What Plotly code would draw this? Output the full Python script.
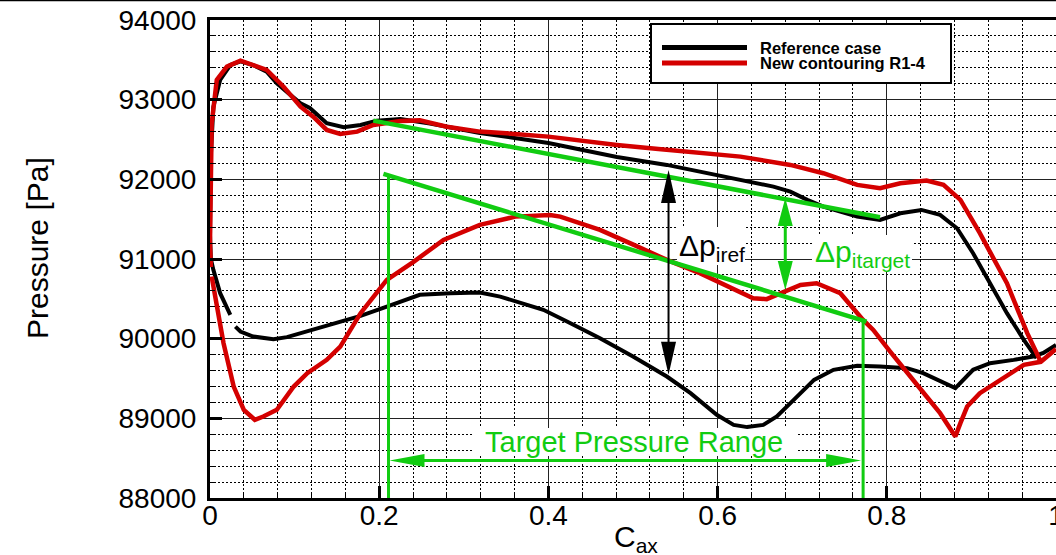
import plotly.graph_objects as go

# ---------------------------------------------------------------
# Blade surface pressure vs. axial chord (C_ax)
# ---------------------------------------------------------------

# Reference case: pressure side (from leading edge)
ref_ps_cax = [0.000, 0.001, 0.004, 0.012, 0.024, 0.036, 0.051, 0.067, 0.079, 0.095,
              0.107, 0.118, 0.138, 0.158, 0.178, 0.197, 0.225, 0.260, 0.319, 0.360,
              0.400, 0.440, 0.481, 0.540, 0.579, 0.627, 0.666, 0.686, 0.706, 0.725,
              0.745, 0.765, 0.792, 0.816, 0.841, 0.863, 0.883, 0.902, 0.922, 0.942,
              0.962, 0.977]
ref_ps_p = [91300, 92300, 92912, 93247, 93435, 93480, 93435, 93351, 93206, 93060,
            92955, 92896, 92704, 92654, 92683, 92737, 92758, 92700, 92582, 92520,
            92457, 92370, 92281, 92181, 92097, 91992, 91908, 91846, 91742, 91658,
            91595, 91532, 91490, 91574, 91616, 91553, 91386, 91072, 90696, 90320,
            89985, 89755]

# Reference case: suction side (after leading edge; None = break in the line)
ref_ss_cax = [0.001, 0.004, 0.012, 0.024, None, 0.030, 0.036, 0.051, 0.075, 0.091,
              0.118, 0.146, 0.178, 0.209, 0.248, 0.284, 0.319, 0.343, 0.370, 0.394,
              0.422, 0.461, 0.500, 0.540, 0.568, 0.599, 0.619, 0.635, 0.654, 0.670,
              0.690, 0.714, 0.737, 0.765, 0.792, 0.824, 0.843, 0.863, 0.881, 0.902,
              0.922, 0.950, 0.973, 0.985, 1.000]
ref_ss_p = [91000, 90863, 90571, 90299, None, 90152, 90090, 90027, 89994, 90019,
            90098, 90190, 90286, 90403, 90550, 90571, 90578, 90528, 90445, 90362,
            90215, 90006, 89775, 89525, 89316, 89044, 88918, 88890, 88918, 89023,
            89232, 89483, 89609, 89659, 89650, 89630, 89567, 89462, 89379, 89609,
            89692, 89734, 89775, 89820, 89920]

# New contouring R1-4: pressure side (from leading edge)
new_ps_cax = [0.000, 0.001, 0.002, 0.008, 0.020, 0.036, 0.051, 0.067, 0.087, 0.107,
              0.122, 0.138, 0.154, 0.174, 0.193, 0.225, 0.248, 0.280, 0.319, 0.360,
              0.400, 0.440, 0.481, 0.530, 0.579, 0.627, 0.686, 0.725, 0.765, 0.792,
              0.816, 0.847, 0.867, 0.887, 0.910, 0.942, 0.966, 0.982]
new_ps_p = [91200, 92000, 92700, 93247, 93414, 93490, 93440, 93373, 93163, 92912,
            92787, 92620, 92570, 92599, 92683, 92733, 92740, 92660, 92599, 92570,
            92536, 92490, 92432, 92380, 92328, 92285, 92181, 92077, 91930, 91888,
            91951, 91984, 91930, 91742, 91324, 90696, 90069, 89710]

# New contouring R1-4: suction side (after leading edge)
new_ss_cax = [0.001, None, 0.002, 0.004, 0.008, 0.016, 0.028, 0.040, 0.053, 0.063,
              0.079, 0.099, 0.115, 0.138, 0.154, 0.178, 0.209, 0.241, 0.276, 0.319,
              0.361, 0.402, 0.414, 0.461, 0.501, 0.540, 0.579, 0.627, 0.642, 0.658,
              0.678, 0.698, 0.717, 0.745, 0.772, 0.784, 0.804, 0.824, 0.847, 0.863,
              0.881, 0.887, 0.895, 0.910, 0.934, 0.962, 0.982, 1.000]
new_ss_p = [90900, None, 90780, 90650, 90445, 89943, 89399, 89107, 88981, 89023,
            89107, 89399, 89567, 89734, 89901, 90320, 90738, 90968, 91240, 91428,
            91532, 91553, 91532, 91365, 91177, 90989, 90822, 90591, 90508, 90496,
            90591, 90675, 90696, 90571, 90236, 90110, 89838, 89567, 89274, 89065,
            88772, 88940, 89148, 89316, 89483, 89671, 89710, 89870]

# Target pressure gradient lines (pressure side / suction side)
target_ps_cax = [0.193, 0.792]
target_ps_p = [92737, 91524]
target_ss_cax = [0.205, 0.776]
target_ss_p = [92068, 90215]

# Target pressure range limits and marker levels
range_cax = [0.211, 0.772]
range_top_p = [92034, 90230]
range_arrow_p = 88471

# Pressure difference arrows: (cax, bottom, top)
dp_ref = (0.542, 89546, 92118)
dp_target = (0.680, 90610, 91767)

# ---------------------------------------------------------------
# Layout geometry
# ---------------------------------------------------------------
W, H = 1056, 555
ML, MR, MT, MB = 210, 0, 20, 57
PW, PH = W - ML - MR, H - MT - MB
X_RANGE = [0.0, 1.0]
Y_RANGE = [88000, 94000]
FONT = "Liberation Sans, Arial, Helvetica, sans-serif"

BLACK = "#000000"
RED = "#d40000"
GREEN = "#11cc11"


def ux(n):  # pixel length -> x data units
    return n * (X_RANGE[1] - X_RANGE[0]) / PW


def uy(n):  # pixel length -> y data units
    return n * (Y_RANGE[1] - Y_RANGE[0]) / PH


def dx(px):  # absolute pixel -> x data
    return X_RANGE[0] + ux(px - ML)


def dy(py):  # absolute pixel -> y data
    return Y_RANGE[1] - uy(py - MT)


def px_(px):  # absolute pixel -> paper x
    return (px - ML) / PW


def py_(py):  # absolute pixel -> paper y
    return (H - MB - py) / PH


def closed_path(ps_x, ps_y, ss_x, ss_y):
    return ps_x[::-1] + ss_x, ps_y[::-1] + ss_y


def head(x, y, direction, length, half, color):
    if direction == "up":
        pts = [(x, y), (x - ux(half), y - uy(length)), (x + ux(half), y - uy(length))]
    elif direction == "down":
        pts = [(x, y), (x - ux(half), y + uy(length)), (x + ux(half), y + uy(length))]
    elif direction == "left":
        pts = [(x, y), (x + ux(length), y + uy(half)), (x + ux(length), y - uy(half))]
    else:
        pts = [(x, y), (x - ux(length), y + uy(half)), (x - ux(length), y - uy(half))]
    path = "M " + " L ".join(f"{a:.5f},{b:.3f}" for a, b in pts) + " Z"
    return dict(type="path", path=path, xref="x", yref="y", fillcolor=color,
                line=dict(width=0), layer="above")


fig = go.Figure()

bx, by = closed_path(ref_ps_cax, ref_ps_p, ref_ss_cax, ref_ss_p)
fig.add_trace(go.Scatter(x=bx, y=by, mode="lines", name="Reference case",
                         line=dict(color=BLACK, width=4), connectgaps=False,
                         showlegend=False))
rx, ry = closed_path(new_ps_cax, new_ps_p, new_ss_cax, new_ss_p)
fig.add_trace(go.Scatter(x=rx, y=ry, mode="lines", name="New contouring R1-4",
                         line=dict(color=RED, width=4.5), connectgaps=False,
                         showlegend=False))

# target lines
fig.add_trace(go.Scatter(x=target_ps_cax, y=target_ps_p, mode="lines",
                         line=dict(color=GREEN, width=4.5), showlegend=False))
fig.add_trace(go.Scatter(x=target_ss_cax, y=target_ss_p, mode="lines",
                         line=dict(color=GREEN, width=4.5), showlegend=False))
for cx, ptop in zip(range_cax, range_top_p):
    fig.add_trace(go.Scatter(x=[cx, cx], y=[Y_RANGE[0], ptop], mode="lines",
                             line=dict(color=GREEN, width=3), showlegend=False))

shapes = []

# white boxes behind labels (above gridlines, below curves)
for (x0, x1, y0, y1) in [(473, 797, 428, 456), (677, 745, 227, 265), (812, 912, 235, 272)]:
    shapes.append(dict(type="rect", xref="x", yref="y", x0=dx(x0), x1=dx(x1),
                       y0=dy(y1), y1=dy(y0), fillcolor="white",
                       line=dict(width=0), layer="between"))

# target pressure range double arrow
hl = 35
shapes.append(dict(type="line", xref="x", yref="y", x0=range_cax[0] + ux(hl - 2),
                   x1=range_cax[1] - ux(hl - 2), y0=range_arrow_p, y1=range_arrow_p,
                   line=dict(color=GREEN, width=3), layer="above"))
shapes.append(head(range_cax[0] + ux(1), range_arrow_p, "left", hl, 6.5, GREEN))
shapes.append(head(range_cax[1] - ux(2), range_arrow_p, "right", hl, 6.5, GREEN))

# delta p (reference) arrow
cx, pb, pt = dp_ref
shapes.append(dict(type="line", xref="x", yref="y", x0=cx, x1=cx,
                   y0=pb + uy(20), y1=pt - uy(20), line=dict(color=BLACK, width=2),
                   layer="above"))
shapes.append(head(cx, pt, "up", 33, 7.5, BLACK))
shapes.append(head(cx, pb, "down", 33, 7.5, BLACK))

# delta p (target) arrow
cx, pb, pt = dp_target
shapes.append(dict(type="line", xref="x", yref="y", x0=cx, x1=cx,
                   y0=pb + uy(20), y1=pt - uy(20), line=dict(color=GREEN, width=3),
                   layer="above"))
shapes.append(head(cx, pt, "up", 28, 7.5, GREEN))
shapes.append(head(cx, pb, "down", 29, 7.5, GREEN))

# legend box
shapes.append(dict(type="rect", xref="paper", yref="paper", x0=px_(651), x1=px_(951),
                   y0=py_(83), y1=py_(24), fillcolor="white",
                   line=dict(color=BLACK, width=2), layer="above"))
shapes.append(dict(type="line", xref="paper", yref="paper", x0=px_(662), x1=px_(747),
                   y0=py_(47.5), y1=py_(47.5), line=dict(color=BLACK, width=5),
                   layer="above"))
shapes.append(dict(type="line", xref="paper", yref="paper", x0=px_(662), x1=px_(747),
                   y0=py_(63), y1=py_(63), line=dict(color=RED, width=5),
                   layer="above"))

# thin rule along the top of the page
shapes.append(dict(type="line", xref="paper", yref="paper", x0=px_(0), x1=px_(W),
                   y0=py_(0.5), y1=py_(0.5), line=dict(color=BLACK, width=1.5),
                   layer="above"))


def label(text, x, y, size, color, ref="x", xanchor="center", angle=0):
    yr = "y" if ref == "x" else "paper"
    return dict(text=text, x=x, y=y, xref=ref, yref=yr, xanchor=xanchor,
                yanchor="middle", textangle=angle, showarrow=False,
                font=dict(family=FONT, size=size, color=color))


annotations = [
    label("Target Pressure Range", dx(634), dy(442), 29, GREEN),
    label("Δp<sub>iref</sub>", dx(712), dy(247), 30, BLACK),
    label("Δp<sub>itarget</sub>", dx(862), dy(253), 30, GREEN),
    label("<b>Reference case</b>", px_(758), py_(47.5), 16.5, BLACK, ref="paper",
          xanchor="left"),
    label("<b>New contouring R1-4</b>", px_(758), py_(62.5), 16.5, BLACK, ref="paper",
          xanchor="left"),
    label("Pressure [Pa]", px_(37), py_(248), 30, BLACK, ref="paper", angle=-90),
    label("C<sub>ax</sub>", px_(636), py_(538), 30, BLACK, ref="paper"),
]

axis_common = dict(
    showline=True, linecolor=BLACK, linewidth=3, zeroline=False,
    showgrid=True, gridcolor="#222222", gridwidth=1,
    ticks="inside", ticklen=12, tickwidth=2.5, tickcolor=BLACK,
    ticklabeloverflow="allow",
    tickfont=dict(family=FONT, size=28, color=BLACK),
)

fig.update_layout(
    width=W, height=H,
    margin=dict(l=ML, r=MR, t=MT, b=MB, autoexpand=False),
    paper_bgcolor="white", plot_bgcolor="white",
    showlegend=False,
    xaxis=dict(range=X_RANGE, tick0=0, dtick=0.2, mirror=True,
               ticklabelstandoff=-10,
               minor=dict(dtick=0.04, tick0=0, showgrid=True, gridcolor=BLACK,
                          gridwidth=1, griddash="2px,2px", ticks="inside",
                          ticklen=5, tickwidth=1.2, tickcolor=BLACK),
               **axis_common),
    yaxis=dict(range=Y_RANGE, tick0=88000, dtick=1000, tickformat="d",
               ticklabelstandoff=5,
               minor=dict(dtick=200, tick0=88000, showgrid=True, gridcolor=BLACK,
                          gridwidth=1, griddash="2px,2px", ticks="inside",
                          ticklen=5, tickwidth=1.2, tickcolor=BLACK),
               **axis_common),
    shapes=shapes,
    annotations=annotations,
)

fig.write_html("out.html")
